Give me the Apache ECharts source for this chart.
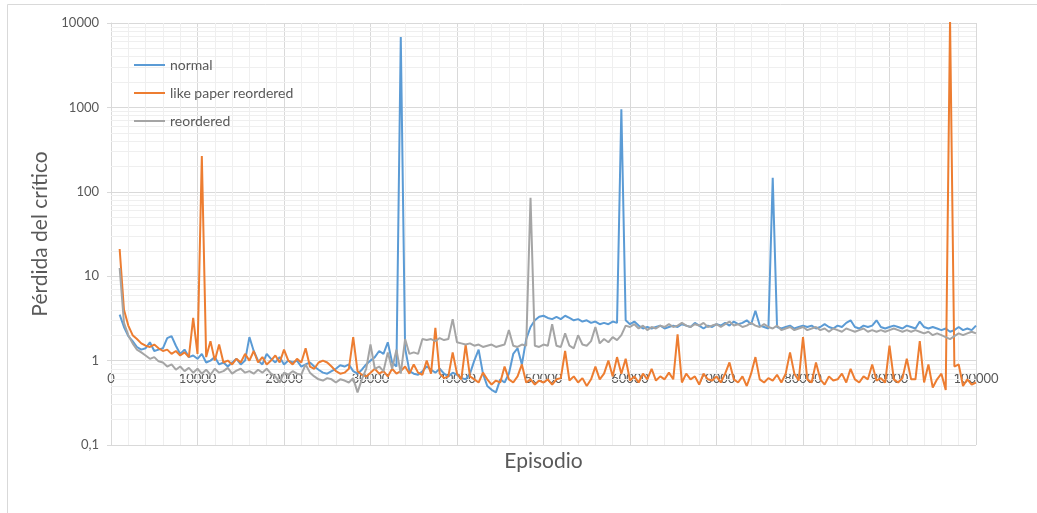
<!DOCTYPE html>
<html>
<head>
<meta charset="utf-8">
<title>Pérdida del crítico</title>
<script src="https://cdn.jsdelivr.net/npm/echarts@6/dist/echarts.min.js"></script>
<style>
  html, body { margin: 0; padding: 0; background: #ffffff; }
  #chart { width: 1037px; height: 513px; }
</style>
</head>
<body>
<div id="chart"></div>
<script>
// Critic loss logged every 500 episodes, from episode 1000 to 100000.
const EPISODE_START = 1000;
const EPISODE_STEP = 500;

const seriesNames = ['normal', 'like paper reordered', 'reordered'];

const normal = [
  3.5, 2.5, 1.95, 1.7, 1.45, 1.35, 1.4, 1.65, 1.3, 1.35,
  1.4, 1.85, 1.95, 1.5, 1.2, 1.35, 1.1, 1.15, 1.05, 1.2,
  0.95, 1.0, 1.1, 0.9, 0.95, 0.85, 0.95, 1.05, 0.9, 1.0,
  1.9, 1.3, 1.0, 0.9, 1.2, 1.05, 0.95, 1.1, 0.9, 1.0,
  0.95, 1.0, 0.85, 0.9, 0.95, 0.85, 0.78, 0.72, 0.7, 0.75,
  0.8, 0.88, 0.85, 0.9, 0.75, 0.7, 0.78, 0.9, 1.0, 1.1,
  1.3, 1.2, 1.65, 0.95, 0.85, 6800, 1.4, 0.75, 0.7, 0.68,
  0.75, 0.85, 0.78, 0.72, 0.8, 0.7, 0.65, 0.72, 0.68, 0.62,
  0.6, 0.7, 1.0, 1.35, 0.7, 0.5, 0.45, 0.42, 0.6, 0.55,
  0.7, 1.2, 1.4, 0.9, 1.8, 2.5, 3.0, 3.3, 3.4, 3.2,
  3.1, 3.3, 3.1, 3.4, 3.2, 3.0, 3.1, 2.9, 3.0, 2.8,
  2.9, 2.7, 2.8, 2.7, 2.9, 2.8, 950, 3.0, 2.7, 2.9,
  2.6, 2.4, 2.5, 2.4, 2.5, 2.6, 2.4, 2.5, 2.6, 2.5,
  2.7, 2.6, 2.5, 2.8, 2.6, 2.4, 2.6, 2.5, 2.7, 2.6,
  2.8, 2.6, 2.9, 2.7, 2.8, 3.0, 2.7, 3.9, 2.6, 2.5,
  2.4, 147, 2.5, 2.4, 2.5, 2.6, 2.4, 2.5, 2.6, 2.5,
  2.6, 2.4, 2.5, 2.7, 2.5, 2.4, 2.6, 2.5, 2.8, 3.0,
  2.5, 2.4, 2.6, 2.5, 2.6, 3.0, 2.5, 2.4, 2.5, 2.6,
  2.5, 2.4, 2.6, 2.5, 2.4, 2.9, 2.5, 2.4, 2.5, 2.4,
  2.3, 2.4, 2.2, 2.3, 2.5, 2.3, 2.4, 2.3, 2.6
];

const likePaperReordered = [
  21, 4.0, 2.6, 2.0, 1.8, 1.6, 1.5, 1.45, 1.55, 1.4,
  1.3, 1.35, 1.2, 1.3, 1.15, 1.25, 1.1, 3.2, 1.2, 265,
  1.1, 1.7, 1.0, 1.55, 0.95, 1.0, 0.9, 1.05, 0.95, 1.2,
  1.0, 1.3, 0.95, 1.1, 0.9, 1.0, 1.15, 0.95, 1.35, 1.0,
  0.9, 1.05, 0.95, 1.4, 0.85, 0.8, 0.95, 1.0, 0.95, 0.85,
  0.75, 0.7, 0.72, 0.8, 1.9, 0.75, 0.68, 0.65, 0.72, 0.8,
  0.7, 0.75, 0.65, 0.8, 0.7, 0.75, 0.85, 0.7, 0.9, 0.72,
  0.68, 1.0, 0.7, 2.45, 0.7, 0.62, 0.65, 1.25, 0.7, 0.6,
  1.55, 0.65, 0.6, 0.55, 0.72, 0.6, 0.52, 0.58, 0.55, 0.85,
  0.6, 0.55, 0.65, 0.9, 0.55, 0.6, 0.52, 0.58, 0.55, 0.6,
  0.52, 0.6, 0.62, 1.3, 0.58, 0.65, 0.55, 0.62, 0.5, 0.6,
  0.85, 0.6, 0.7, 1.0, 0.65, 1.1, 0.7, 1.05, 0.58, 0.65,
  0.55, 0.7, 0.6, 0.8, 0.58, 0.65, 0.6, 0.72, 0.6, 2.05,
  0.55, 0.7, 0.6, 0.65, 0.52, 0.7, 0.6, 0.58, 0.65, 0.55,
  0.7, 0.95, 0.6, 0.55, 0.65, 0.5, 0.7, 1.1, 0.6, 0.55,
  0.62, 0.58, 0.68, 0.55, 0.7, 1.25, 0.7, 0.58, 1.9, 0.6,
  0.55, 0.95, 0.6, 0.52, 0.65, 0.58, 0.6, 0.7, 0.55, 0.8,
  0.6, 0.55, 0.65, 0.6, 0.9, 0.58, 0.62, 0.55, 1.5, 0.6,
  0.55, 0.62, 1.05, 0.6, 0.6, 1.7, 0.55, 0.9, 0.48, 0.6,
  0.7, 0.45, 11000, 0.85, 0.9, 0.5, 0.6, 0.52, 0.55
];

const reordered = [
  12.5, 2.8, 2.0, 1.6, 1.35, 1.25, 1.15, 1.05, 1.1, 0.98,
  0.95, 0.85, 0.9, 0.78, 0.85, 0.75, 0.82, 0.72, 0.8, 0.7,
  0.78, 0.68, 0.8, 0.72, 0.75, 0.82, 0.7, 0.76, 0.8, 0.72,
  0.75, 0.7, 0.78, 0.72, 0.8, 0.7, 0.65, 0.55, 0.72, 0.68,
  0.75, 0.7, 0.68, 0.9, 0.72, 0.65, 0.6, 0.58, 0.62, 0.6,
  0.55, 0.6, 0.58, 0.55, 0.62, 0.42, 0.6, 0.8, 1.55, 0.8,
  0.85, 0.75, 1.25, 0.8, 1.35, 0.7, 1.8, 1.2, 1.25, 1.2,
  1.8, 1.75, 1.8, 1.7, 1.85, 1.75, 1.8, 3.1, 1.65, 1.6,
  1.55, 1.6, 1.5, 1.55, 1.45, 1.5, 1.55, 1.45, 1.5, 1.55,
  2.3, 1.5, 1.45, 1.55, 1.5, 85, 1.5, 1.45, 1.55, 1.5,
  2.7, 1.5, 1.45, 2.1, 1.5, 1.4, 2.0, 1.55, 1.5, 1.7,
  2.5, 1.6, 1.8, 1.65, 1.9, 1.75, 2.0, 2.6, 2.5, 2.7,
  2.4, 2.6, 2.3, 2.5, 2.4, 2.6, 2.5, 2.7, 2.5, 2.6,
  2.8, 2.6, 2.5, 2.7, 2.6, 2.8, 2.5, 2.6, 2.7, 2.5,
  2.7, 2.9, 2.6, 2.7, 2.5, 2.6, 2.8, 2.6, 2.5, 2.7,
  2.5, 2.4, 2.6, 2.3, 2.4, 2.5, 2.3, 2.4, 2.5, 2.3,
  2.4, 2.5, 2.3, 2.4, 2.2, 2.4, 2.3, 2.2, 2.4, 2.3,
  2.2, 2.3, 2.4, 2.2, 2.3, 2.2, 2.3, 2.2, 2.3, 2.4,
  2.3, 2.2, 2.3, 2.2, 2.3, 2.2, 2.1, 2.2, 2.0, 2.1,
  2.0, 1.9, 1.8, 1.95, 2.1, 2.0, 2.1, 2.2, 2.1
];

const seriesColors = ['#5B9BD5', '#ED7D31', '#A5A5A5'];
const FONT = 'Lato, "Liberation Sans", sans-serif';
const TEXT_COLOR = '#595959';

// Episode number for every logged point.
const episodes = normal.map((_, i) => EPISODE_START + i * EPISODE_STEP);
const toPairs = values => values.map((v, i) => [episodes[i], v]);

// Log minor gridlines at 2..9 within each decade between 0.1 and 10000.
const minorLogLines = [];
for (let decade = 0.1; decade < 10000; decade *= 10) {
  for (let m = 2; m <= 9; m++) {
    minorLogLines.push({ yAxis: Number((decade * m).toPrecision(6)) });
  }
}

const chart = echarts.init(document.getElementById('chart'), null, { renderer: 'canvas' });

chart.setOption({
  animation: false,
  backgroundColor: '#ffffff',
  graphic: [{
    type: 'rect',
    shape: { x: 7.5, y: 4.5, width: 1060, height: 540 },
    style: { fill: 'none', stroke: '#d9d9d9', lineWidth: 1 },
    silent: true,
    z: -10
  }],
  grid: {
    left: 111, right: 61, top: 23, bottom: 68,
    outerBoundsMode: 'none',
    containLabel: false
  },
  legend: {
    orient: 'vertical',
    left: 128,
    top: 53,
    padding: 5,
    itemWidth: 31,
    itemHeight: 14,
    itemGap: 14,
    itemStyle: { opacity: 0 },
    textStyle: { color: TEXT_COLOR, fontSize: 14, fontFamily: FONT },
    data: seriesNames
  },
  xAxis: {
    type: 'value',
    min: 0,
    max: 100000,
    interval: 10000,
    name: 'Episodio',
    nameLocation: 'middle',
    nameGap: 5,
    nameTextStyle: { color: TEXT_COLOR, fontSize: 21, fontFamily: FONT },
    axisLine: { show: false },
    axisTick: { show: false },
    axisLabel: {
      margin: -73,
      color: TEXT_COLOR,
      fontSize: 13,
      fontFamily: FONT,
      showMinLabel: true,
      showMaxLabel: true,
      formatter: v => String(v)
    },
    splitLine: { show: true, lineStyle: { color: '#d9d9d9', width: 1 } },
    minorTick: { show: false, splitNumber: 5 },
    minorSplitLine: { show: true, lineStyle: { color: '#efefef', width: 1 } }
  },
  yAxis: {
    type: 'log',
    logBase: 10,
    min: 0.1,
    max: 10000,
    name: 'Pérdida del crítico',
    nameLocation: 'middle',
    nameRotate: 90,
    nameGap: 57,
    nameTextStyle: { color: TEXT_COLOR, fontSize: 21, fontFamily: FONT },
    axisLine: { show: true, lineStyle: { color: '#d9d9d9', width: 1 } },
    axisTick: { show: true, length: 4, lineStyle: { color: '#d9d9d9' } },
    axisLabel: {
      margin: 12,
      color: TEXT_COLOR,
      fontSize: 13,
      fontFamily: FONT,
      formatter: v => String(Number(v.toPrecision(6))).replace('.', ',')
    },
    splitLine: { show: true, lineStyle: { color: '#d9d9d9', width: 1 } }
  },
  series: [
    {
      name: 'minor-grid',
      type: 'line',
      data: [],
      silent: true,
      z: 1,
      markLine: {
        silent: true,
        z: 1,
        symbol: ['none', 'none'],
        label: { show: false },
        lineStyle: { color: '#efefef', width: 1, type: 'solid' },
        emphasis: { disabled: true },
        data: minorLogLines
      }
    },
    {
      name: seriesNames[0],
      type: 'line',
      data: toPairs(normal),
      showSymbol: false,
      symbol: 'none',
      z: 3,
      itemStyle: { color: seriesColors[0] },
      lineStyle: { color: seriesColors[0], width: 2 }
    },
    {
      name: seriesNames[1],
      type: 'line',
      data: toPairs(likePaperReordered),
      showSymbol: false,
      symbol: 'none',
      z: 4,
      itemStyle: { color: seriesColors[1] },
      lineStyle: { color: seriesColors[1], width: 2 }
    },
    {
      name: seriesNames[2],
      type: 'line',
      data: toPairs(reordered),
      showSymbol: false,
      symbol: 'none',
      z: 5,
      itemStyle: { color: seriesColors[2] },
      lineStyle: { color: seriesColors[2], width: 2 }
    }
  ]
});
</script>
</body>
</html>
